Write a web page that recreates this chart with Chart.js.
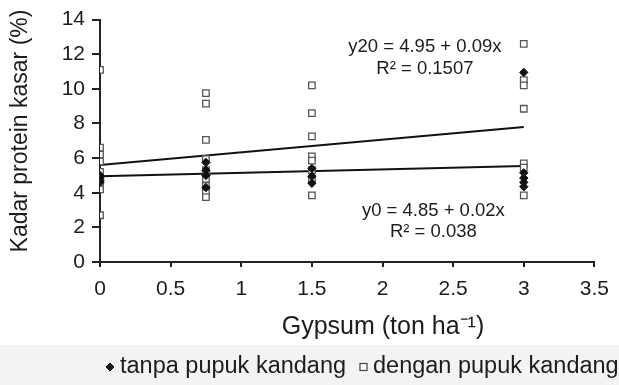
<!DOCTYPE html>
<html><head><meta charset="utf-8">
<script src="https://cdn.jsdelivr.net/npm/chart.js@4.4.0/dist/chart.umd.min.js"></script>
<style>html,body{margin:0;padding:0;background:#fff;overflow:hidden}#wrap{width:619px;height:385px;position:relative}</style>
</head><body><div id="wrap"><canvas id="c" width="619" height="385"></canvas></div>
<script>
// ---- data ----
const gypsumLevels = [0, 0.75, 1.5, 3];
const tanpaAt0   = [5.0, 4.85, 4.7, 4.6];
const tanpaAt075 = [5.75, 5.3, 5.0, 4.3];
const tanpaAt15  = [5.4, 4.95, 4.55];
const tanpaAt3   = [10.95, 5.15, 4.85, 4.6, 4.35];
const denganAt0   = [11.1, 6.6, 6.2, 5.8, 5.2, 4.4, 4.2, 2.7];
const denganAt075 = [9.75, 9.15, 7.05, 5.95, 5.3, 4.8, 4.4, 4.0, 3.75];
const denganAt15  = [10.2, 8.6, 7.25, 6.1, 5.85, 5.3, 4.8, 3.85];
const denganAt3   = [12.6, 10.5, 10.2, 8.85, 5.7, 5.45, 3.85];
const trendX = [0, 3];
const trendDengan = [5.6, 7.8];
const trendTanpa = [4.95, 5.55];
const xTickValues = [0, 0.5, 1, 1.5, 2, 2.5, 3, 3.5];
const yTickValues = [0, 2, 4, 6, 8, 10, 12, 14];
const seriesLabels = ['tanpa pupuk kandang', 'dengan pupuk kandang'];
const eqDengan = ['y20 = 4.95 + 0.09x', 'R\u00B2 = 0.1507'];
const eqTanpa = ['y0 = 4.85 + 0.02x', 'R\u00B2 = 0.038'];
const xTitle = 'Gypsum (ton ha\u207B\u00B9)';
const yTitle = 'Kadar protein kasar (%)';

// ---- build points ----
function pts(groups){
  const out=[];
  groups.forEach((vals,i)=>vals.forEach(v=>out.push({x:gypsumLevels[i],y:v})));
  return out;
}
const tanpaPts = pts([tanpaAt0,tanpaAt075,tanpaAt15,tanpaAt3]);
const denganPts = pts([denganAt0,denganAt075,denganAt15,denganAt3]);
const trendDPts = trendX.map((x,i)=>({x, y:trendDengan[i]}));
const trendTPts = trendX.map((x,i)=>({x, y:trendTanpa[i]}));

const FONT = '"Liberation Sans", Arial, Helvetica, sans-serif';
const INK = '#1c1c1c';

const annotate = {
  id:'annotate',
  beforeDraw(chart){
    const ctx=chart.ctx;
    ctx.save();
    ctx.fillStyle='#f3f3f3';
    ctx.fillRect(0,345,chart.width,chart.height-345);
    ctx.restore();
  },
  afterDraw(chart){
    const ctx=chart.ctx, xs=chart.scales.x, ys=chart.scales.y;
    ctx.save();
    ctx.fillStyle=INK;
    ctx.textAlign='center'; ctx.textBaseline='middle';
    // x title
    ctx.font='25px '+FONT;
    ctx.fillText(xTitle, 383, 327);
    // y title
    ctx.font='23px '+FONT;
    ctx.translate(21,131); ctx.rotate(-Math.PI/2);
    ctx.fillText(yTitle,0,0);
    ctx.restore();
    ctx.save();
    ctx.fillStyle=INK;
    ctx.font='18.5px '+FONT;
    ctx.textAlign='center'; ctx.textBaseline='middle';
    const e1x=xs.getPixelForValue(2.3);
    ctx.fillText(eqDengan[0], e1x, ys.getPixelForValue(12.43));
    ctx.fillText(eqDengan[1], e1x, ys.getPixelForValue(11.15));
    const e2x=xs.getPixelForValue(2.36);
    ctx.fillText(eqTanpa[0], e2x, ys.getPixelForValue(2.95));
    ctx.fillText(eqTanpa[1], e2x, ys.getPixelForValue(1.72));
    // legend
    const ly=367;
    ctx.font='23.5px '+FONT;
    ctx.textAlign='left';
    Chart.helpers.drawPoint(ctx,{pointStyle:'rectRot',radius:4,borderWidth:1},110,ly);
    ctx.fillStyle=INK;
    ctx.fill();
    ctx.fillText(seriesLabels[0],120,ly);
    ctx.fillStyle='#fff'; ctx.strokeStyle='#444'; ctx.lineWidth=1.2;
    ctx.fillRect(360,ly-3.5,7,7); ctx.strokeRect(360,ly-3.5,7,7);
    ctx.fillStyle=INK;
    ctx.fillText(seriesLabels[1],373,ly);
    ctx.restore();
  }
};

new Chart(document.getElementById('c'),{
  type:'scatter',
  data:{datasets:[
    {label:seriesLabels[0],data:tanpaPts,pointStyle:'rectRot',pointRadius:4.2,backgroundColor:'#111',borderColor:'#111',borderWidth:1},
    {label:seriesLabels[1],data:denganPts,pointStyle:'rect',pointRadius:4.6,backgroundColor:'#fff',borderColor:'#555',borderWidth:1.3},
    {label:'trend dengan',data:trendDPts,showLine:true,pointRadius:0,borderColor:'#111',borderWidth:2},
    {label:'trend tanpa',data:trendTPts,showLine:true,pointRadius:0,borderColor:'#111',borderWidth:2}
  ]},
  options:{
    responsive:false,animation:false,devicePixelRatio:1,
    layout:{padding:{left:0,right:19,top:17,bottom:45}},
    plugins:{legend:{display:false},tooltip:{enabled:false}},
    scales:{
      x:{type:'linear',min:0,max:3.5,
        afterFit:s=>{s.height=78;},
        afterBuildTicks:s=>{s.ticks=xTickValues.map(v=>({value:v}));},
        ticks:{color:INK,font:{family:FONT,size:21},padding:10,maxRotation:0,autoSkip:false,
          callback:v=>String(v)},
        grid:{display:true,drawOnChartArea:false,drawTicks:true,tickLength:5,color:'#222',lineWidth:2},
        border:{display:true,color:'#222',width:2}
      },
      y:{type:'linear',min:0,max:14,
        afterFit:s=>{s.width=100;},
        afterBuildTicks:s=>{s.ticks=yTickValues.map(v=>({value:v}));},
        ticks:{color:INK,font:{family:FONT,size:21},padding:7,autoSkip:false,callback:v=>String(v)},
        grid:{display:true,drawOnChartArea:false,drawTicks:true,tickLength:8,color:'#222',lineWidth:2},
        border:{display:true,color:'#222',width:2}
      }
    }
  },
  plugins:[annotate]
});
</script></body></html>
